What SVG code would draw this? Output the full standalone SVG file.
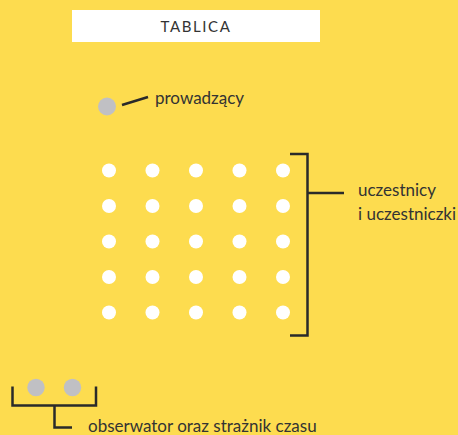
<svg xmlns="http://www.w3.org/2000/svg" width="458" height="435" viewBox="0 0 458 435">
<style>
.lbl{font-family:Lato,"Open Sans","Liberation Sans",sans-serif;font-size:17px;fill:#333}
.ln{stroke:#2a2a2a;stroke-width:2.5;fill:none}
.dot{fill:#fff}
.gray{fill:#c0c0c4}
</style>
<rect x="0" y="0" width="458" height="435" fill="#FDDC4F"/>
<g id="tablica">
<rect x="72" y="10" width="248" height="32" fill="#fff"/>
<text x="196" y="31.5" text-anchor="middle" font-family="Lato,'Open Sans','Liberation Sans',sans-serif" font-size="15" letter-spacing="1.6" fill="#333">TABLICA</text>
</g>
<g id="prowadzacy">
<circle class="gray" cx="107" cy="106.5" r="9"/>
<text class="lbl" x="155" y="104">prowadzący</text>
</g>
<g id="uczestnicy">
<g class="dot">
<circle cx="109" cy="170.5" r="7"/><circle cx="152.5" cy="170.5" r="7"/><circle cx="196" cy="170.5" r="7"/><circle cx="239.5" cy="170.5" r="7"/><circle cx="283" cy="170.5" r="7"/>
<circle cx="109" cy="206" r="7"/><circle cx="152.5" cy="206" r="7"/><circle cx="196" cy="206" r="7"/><circle cx="239.5" cy="206" r="7"/><circle cx="283" cy="206" r="7"/>
<circle cx="109" cy="241.5" r="7"/><circle cx="152.5" cy="241.5" r="7"/><circle cx="196" cy="241.5" r="7"/><circle cx="239.5" cy="241.5" r="7"/><circle cx="283" cy="241.5" r="7"/>
<circle cx="109" cy="277" r="7"/><circle cx="152.5" cy="277" r="7"/><circle cx="196" cy="277" r="7"/><circle cx="239.5" cy="277" r="7"/><circle cx="283" cy="277" r="7"/>
<circle cx="109" cy="312.5" r="7"/><circle cx="152.5" cy="312.5" r="7"/><circle cx="196" cy="312.5" r="7"/><circle cx="239.5" cy="312.5" r="7"/><circle cx="283" cy="312.5" r="7"/>
</g>
<text class="lbl" x="358" y="196">uczestnicy</text>
<text class="lbl" x="358" y="220">i uczestniczki</text>
</g>
<g id="obserwator">
<circle class="gray" cx="36" cy="387.5" r="8.7"/>
<circle class="gray" cx="72.5" cy="387.5" r="8.7"/>
<text class="lbl" x="88" y="432">obserwator oraz strażnik czasu</text>
</g>
<g id="connectors">
<path class="ln" d="M122 105 L148 97"/>
<path class="ln" d="M290 154 H307.5 V335.5 H290 M307.5 193 H344"/>
<path class="ln" d="M12.5 386.5 V405.5 H96 V386.5 M54.5 405.5 V427.5 H72"/>
</g>
</svg>
